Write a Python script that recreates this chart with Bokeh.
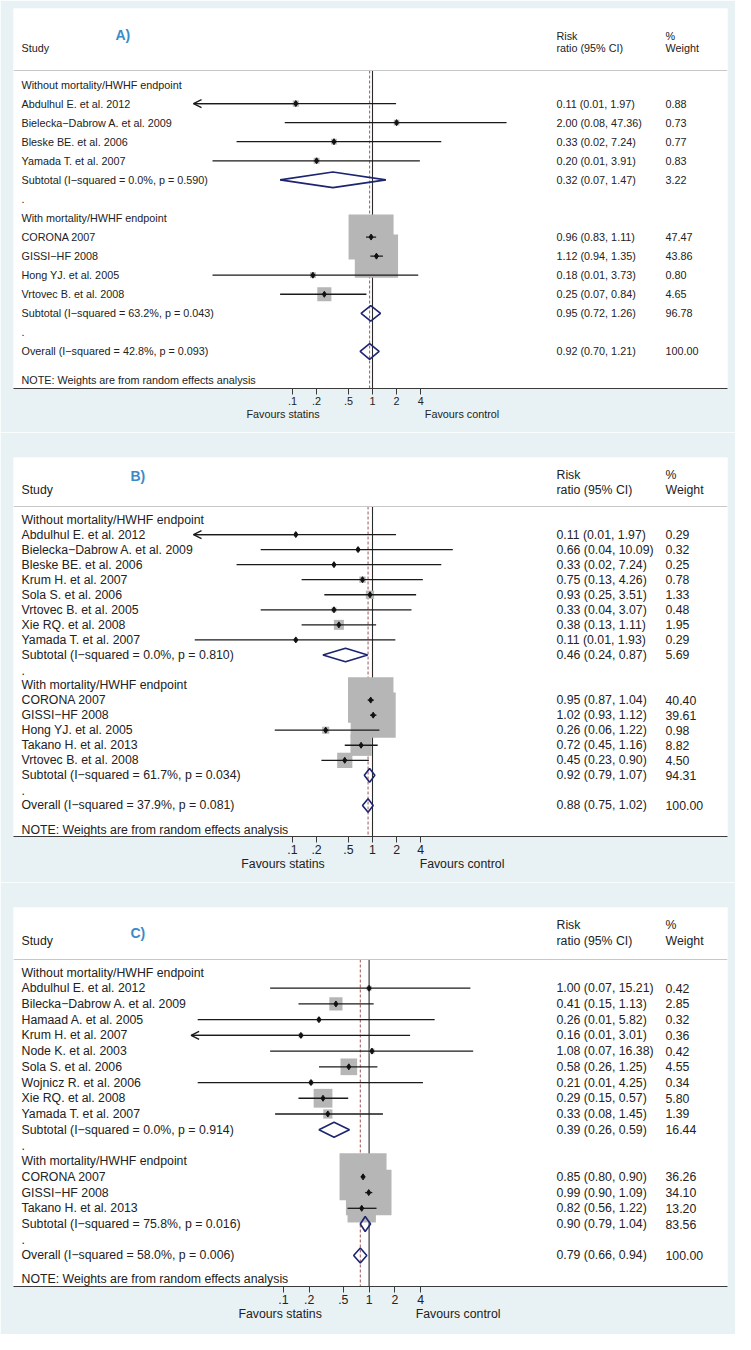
import math
import json
from bokeh.plotting import figure
from bokeh.layouts import column
from bokeh.models import (Range1d, FixedTicker, LogAxis, CustomJSTickFormatter,
                          Span, Arrow, OpenHead)
from bokeh.core.properties import value
from bokeh.embed import file_html
from bokeh.resources import INLINE

# ---------------- data ----------------
GROUPS = ["Without mortality/HWHF endpoint", "With mortality/HWHF endpoint"]
TICKS = [0.1, 0.2, 0.5, 1, 2, 4]
FAVOURS = ["Favours statins", "Favours control"]
NOTE = "NOTE: Weights are from random effects analysis"
HEAD = ["Study", "Risk", "ratio (95% CI)", "%", "Weight"]

# Panel A
A_g1_study = ["Abdulhul E. et al. 2012", "Bielecka−Dabrow A. et al. 2009",
              "Bleske BE. et al. 2006", "Yamada T. et al. 2007"]
A_g1_rr = [0.11, 2.00, 0.33, 0.20]
A_g1_lo = [0.0055, 0.08, 0.02, 0.01]
A_g1_hi = [1.97, 47.36, 7.24, 3.91]
A_g1_wt = [0.88, 0.73, 0.77, 0.83]
A_g2_study = ["CORONA 2007", "GISSI−HF 2008", "Hong YJ. et al. 2005", "Vrtovec B. et al. 2008"]
A_g2_rr = [0.96, 1.12, 0.18, 0.25]
A_g2_lo = [0.83, 0.94, 0.01, 0.07]
A_g2_hi = [1.11, 1.35, 3.73, 0.84]
A_g2_wt = [47.47, 43.86, 0.80, 4.65]
A_pool_label = ["Subtotal  (I−squared = 0.0%, p = 0.590)",
                "Subtotal  (I−squared = 63.2%, p = 0.043)",
                "Overall  (I−squared = 42.8%, p = 0.093)"]
A_pool_rr = [0.32, 0.95, 0.92]
A_pool_lo = [0.07, 0.72, 0.70]
A_pool_hi = [1.47, 1.26, 1.21]
A_pool_wt = [3.22, 96.78, 100.00]

# Panel B
B_g1_study = ["Abdulhul E. et al. 2012", "Bielecka−Dabrow A. et al. 2009",
              "Bleske BE. et al. 2006", "Krum H. et al. 2007", "Sola S. et al. 2006",
              "Vrtovec B. et al. 2005", "Xie RQ. et al. 2008", "Yamada T. et al. 2007"]
B_g1_rr = [0.11, 0.66, 0.33, 0.75, 0.93, 0.33, 0.38, 0.11]
B_g1_lo = [0.0055, 0.04, 0.02, 0.13, 0.25, 0.04, 0.13, 0.006]
B_g1_hi = [1.97, 10.09, 7.24, 4.26, 3.51, 3.07, 1.11, 1.93]
B_g1_wt = [0.29, 0.32, 0.25, 0.78, 1.33, 0.48, 1.95, 0.29]
B_g2_study = ["CORONA 2007", "GISSI−HF 2008", "Hong YJ. et al. 2005",
              "Takano H. et al. 2013", "Vrtovec B. et al. 2008"]
B_g2_rr = [0.95, 1.02, 0.26, 0.72, 0.45]
B_g2_lo = [0.87, 0.93, 0.06, 0.45, 0.23]
B_g2_hi = [1.04, 1.12, 1.22, 1.16, 0.90]
B_g2_wt = [40.40, 39.61, 0.98, 8.82, 4.50]
B_pool_label = ["Subtotal  (I−squared = 0.0%, p = 0.810)",
                "Subtotal  (I−squared = 61.7%, p = 0.034)",
                "Overall  (I−squared = 37.9%, p = 0.081)"]
B_pool_rr = [0.46, 0.92, 0.88]
B_pool_lo = [0.24, 0.79, 0.75]
B_pool_hi = [0.87, 1.07, 1.02]
B_pool_wt = [5.69, 94.31, 100.00]

# Panel C
C_g1_study = ["Abdulhul E. et al. 2012", "Bilecka−Dabrow A. et al. 2009",
              "Hamaad A. et al. 2005", "Krum H. et al. 2007", "Node K. et al. 2003",
              "Sola S. et al. 2006", "Wojnicz R. et al. 2006", "Xie RQ. et al. 2008",
              "Yamada T. et al. 2007"]
C_g1_rr = [1.00, 0.41, 0.26, 0.16, 1.08, 0.58, 0.21, 0.29, 0.33]
C_g1_lo = [0.07, 0.15, 0.01, 0.008, 0.07, 0.26, 0.01, 0.15, 0.08]
C_g1_hi = [15.21, 1.13, 5.82, 3.01, 16.38, 1.25, 4.25, 0.57, 1.45]
C_g1_wt = [0.42, 2.85, 0.32, 0.36, 0.42, 4.55, 0.34, 5.80, 1.39]
C_g2_study = ["CORONA 2007", "GISSI−HF 2008", "Takano H. et al. 2013"]
C_g2_rr = [0.85, 0.99, 0.82]
C_g2_lo = [0.80, 0.90, 0.56]
C_g2_hi = [0.90, 1.09, 1.22]
C_g2_wt = [36.26, 34.10, 13.20]
C_pool_label = ["Subtotal  (I−squared = 0.0%, p = 0.914)",
                "Subtotal  (I−squared = 75.8%, p = 0.016)",
                "Overall  (I−squared = 58.0%, p = 0.006)"]
C_pool_rr = [0.39, 0.90, 0.79]
C_pool_lo = [0.26, 0.79, 0.66]
C_pool_hi = [0.59, 1.04, 0.94]
C_pool_wt = [16.44, 83.56, 100.00]

# ---------------- style / layout ----------------
FONT = "Liberation Sans"
BG = "#e8f1f3"
TXT = "#222222"
BOX = "#b6b6b6"
NAVY = "#1d2470"
TAGC = "#3a8bc8"
CI = "#1a1a1a"
FRAME_L, FRAME_R = 21, 735
FIG_W = 735

LAYOUT = {
    "A)": dict(fig_top=8, fig_h=432, frame_top=16, frame_bot=396, row0=92, pitch=19.07,
               hdr1=43, hdr2=55, sep=78, tag_x=123, tag_y=42, note_y=387,
               x1=380, ppd=80.0, clip=-2.2375, fs=10.8, box=45, dia=7.8),
    "B)": dict(fig_top=440, fig_h=450, frame_top=465, frame_bot=844, row0=527, pitch=15.05,
               hdr1=482, hdr2=497, sep=514, tag_x=138, tag_y=483, note_y=837,
               x1=380, ppd=80.0, clip=-2.2375, fs=12.3, box=45.5, dia=6.8),
    "C)": dict(fig_top=890, fig_h=452, frame_top=915, frame_bot=1294, row0=980, pitch=15.72,
               hdr1=932, hdr2=948, sep=967, tag_x=138, tag_y=940, note_y=1286,
               x1=376.6, ppd=85.7, clip=-2.077, fs=12.3, box=47, dia=7.5),
}


def build(tag, g1, g2, pool, L):
    rows = [("group", GROUPS[0], None)]
    for k in range(len(g1[0])):
        rows.append(("study", g1[0][k], (g1[1][k], g1[2][k], g1[3][k], g1[4][k])))
    rows.append(("pool", pool[0][0], (pool[1][0], pool[2][0], pool[3][0], pool[4][0])))
    rows.append(("blank", ".", None))
    rows.append(("group", GROUPS[1], None))
    for k in range(len(g2[0])):
        rows.append(("study", g2[0][k], (g2[1][k], g2[2][k], g2[3][k], g2[4][k])))
    rows.append(("pool", pool[0][1], (pool[1][1], pool[2][1], pool[3][1], pool[4][1])))
    rows.append(("blank", ".", None))
    rows.append(("pool", pool[0][2], (pool[1][2], pool[2][2], pool[3][2], pool[4][2])))

    pitch = L["pitch"]

    def ry(py):
        return (L["row0"] - py) / pitch

    fw = FRAME_R - FRAME_L
    x1f = L["x1"] - FRAME_L
    xs = 10 ** (-x1f / L["ppd"])
    xe = 10 ** ((fw - x1f) / L["ppd"])
    ys_start = ry(L["frame_bot"])
    ys_end = ry(L["frame_top"])
    clip_lo = 10 ** L["clip"]
    clip_hi = 1.0 / clip_lo

    p = figure(width=FIG_W, height=L["fig_h"], x_axis_type="log", y_axis_location=None,
               x_range=Range1d(xs, xe), y_range=Range1d(ys_start, ys_end),
               output_backend="svg", toolbar_location=None, title=None,
               min_border_left=FRAME_L - 8, min_border_right=8 + FIG_W - FRAME_R,
               min_border_top=L["frame_top"] - L["fig_top"],
               min_border_bottom=L["fig_top"] + L["fig_h"] - L["frame_bot"],
               background_fill_color="white", border_fill_color=BG,
               outline_line_color=None)
    p.grid.visible = False

    fs = value(f"{L['fs']}px")
    font = value(FONT)

    sep_y = ry(L["sep"])
    overall = rows[-1][2][0]
    # vertical reference lines
    p.segment(x0=[1], x1=[1], y0=[sep_y], y1=[ys_start], line_color="#2b2b2b", line_width=1.1)
    p.segment(x0=[overall], x1=[overall], y0=[sep_y], y1=[ys_start],
              line_color="#a86464", line_width=1.1, line_dash="3 2")
    p.add_layout(Span(location=sep_y, dimension="width", line_color="#c8c8c8", line_width=1))

    study_idx = [i for i, r in enumerate(rows) if r[0] == "study"]
    pool_idx = [i for i, r in enumerate(rows) if r[0] == "pool"]
    wmax = max(rows[i][2][3] for i in study_idx)

    # weight boxes
    p.scatter(x=[rows[i][2][0] for i in study_idx], y=[-i for i in study_idx],
              size=[L["box"] * math.sqrt(rows[i][2][3] / wmax) for i in study_idx],
              marker="square", fill_color=BOX, line_color=None)
    # CI lines
    p.segment(x0=[max(rows[i][2][1], clip_lo) for i in study_idx],
              x1=[min(rows[i][2][2], clip_hi) for i in study_idx],
              y0=[-i for i in study_idx], y1=[-i for i in study_idx],
              line_color=CI, line_width=1.3)
    for i in study_idx:
        rr, lo, hi, w = rows[i][2]
        if lo < clip_lo:
            p.add_layout(Arrow(end=OpenHead(size=8, line_width=1.3, line_color=CI),
                               x_start=rr, y_start=-i, x_end=clip_lo, y_end=-i,
                               line_color=CI, line_width=1.3))
    # point estimates
    p.scatter(x=[rows[i][2][0] for i in study_idx], y=[-i for i in study_idx],
              marker="diamond", size=6, color="#111111")
    # pooled diamonds
    h = L["dia"] / pitch
    p.patches(xs=[[rows[i][2][1], rows[i][2][0], rows[i][2][2], rows[i][2][0]] for i in pool_idx],
              ys=[[-i, -i + h, -i, -i - h] for i in pool_idx],
              fill_alpha=0, line_color=NAVY, line_width=1.6)

    # texts
    left_txt = [r[1] for r in rows] + [HEAD[0], NOTE]
    left_y = [-i for i in range(len(rows))] + [ry(L["hdr2"]), ry(L["note_y"])]
    p.text(x=[xs] * len(left_txt), y=left_y, text=left_txt, x_offset=29 - FRAME_L,
           text_baseline="middle", text_align="left", text_font=font,
           text_font_size=fs, text_color=TXT)
    num_rows = study_idx + pool_idx
    rr_txt = [f"{rows[i][2][0]:.2f} ({rows[i][2][1]:.2f}, {rows[i][2][2]:.2f})" for i in num_rows]
    rr_txt += [HEAD[1], HEAD[2]]
    rr_y = [-i for i in num_rows] + [ry(L["hdr1"]), ry(L["hdr2"])]
    p.text(x=[xs] * len(rr_txt), y=rr_y, text=rr_txt, x_offset=564 - FRAME_L,
           text_baseline="middle", text_align="left", text_font=font,
           text_font_size=fs, text_color=TXT)
    wt_txt = [f"{rows[i][2][3]:.2f}" for i in num_rows] + [HEAD[3], HEAD[4]]
    wt_y = [-i for i in num_rows] + [ry(L["hdr1"]), ry(L["hdr2"])]
    p.text(x=[xs] * len(wt_txt), y=wt_y, text=wt_txt, x_offset=673 - FRAME_L,
           text_baseline="middle", text_align="left", text_font=font,
           text_font_size=fs, text_color=TXT)
    p.text(x=[xs], y=[ry(L["tag_y"])], text=[tag], x_offset=L["tag_x"] - FRAME_L,
           text_baseline="middle", text_align="left", text_font=font,
           text_font_size=value("14px"), text_font_style="bold", text_color=TAGC)

    # axis
    ax = p.xaxis[0]
    ax.ticker = FixedTicker(ticks=TICKS)
    ax.formatter = CustomJSTickFormatter(
        code="return tick < 1 ? String(tick).replace('0.', '.') : String(tick);")
    ax.axis_line_color = "#3a3a3a"
    ax.axis_line_width = 1.2
    ax.major_tick_line_color = "#3a3a3a"
    ax.major_tick_out = 6
    ax.major_tick_in = 0
    ax.minor_tick_line_color = None
    ax.major_label_standoff = 2
    ax.major_label_text_font = FONT
    ax.major_label_text_font_size = f"{L['fs']}px"
    ax.major_label_text_color = TXT

    half = L["clip"] / 2.0
    ax2 = LogAxis(ticker=FixedTicker(ticks=[10 ** half, 10 ** (-half)]),
                  formatter=CustomJSTickFormatter(
                      code="return tick < 1 ? %s : %s;" % (json.dumps(FAVOURS[0]), json.dumps(FAVOURS[1]))),
                  axis_line_color=None, major_tick_line_color=None, minor_tick_line_color=None,
                  major_tick_out=0, major_tick_in=0, major_label_standoff=0,
                  major_label_text_font=FONT, major_label_text_font_size=f"{L['fs']}px",
                  major_label_text_color=TXT)
    p.add_layout(ax2, "below")
    return p


pA = build("A)", (A_g1_study, A_g1_rr, A_g1_lo, A_g1_hi, A_g1_wt),
           (A_g2_study, A_g2_rr, A_g2_lo, A_g2_hi, A_g2_wt),
           (A_pool_label, A_pool_rr, A_pool_lo, A_pool_hi, A_pool_wt), LAYOUT["A)"])
pB = build("B)", (B_g1_study, B_g1_rr, B_g1_lo, B_g1_hi, B_g1_wt),
           (B_g2_study, B_g2_rr, B_g2_lo, B_g2_hi, B_g2_wt),
           (B_pool_label, B_pool_rr, B_pool_lo, B_pool_hi, B_pool_wt), LAYOUT["B)"])
pC = build("C)", (C_g1_study, C_g1_rr, C_g1_lo, C_g1_hi, C_g1_wt),
           (C_g2_study, C_g2_rr, C_g2_lo, C_g2_hi, C_g2_wt),
           (C_pool_label, C_pool_rr, C_pool_lo, C_pool_hi, C_pool_wt), LAYOUT["C)"])

p = column(pA, pB, pC, spacing=0)
html = file_html(p, INLINE).replace("<body>", '<body style="background-color:%s;">' % BG, 1)
open("out.html", "w").write(html)
